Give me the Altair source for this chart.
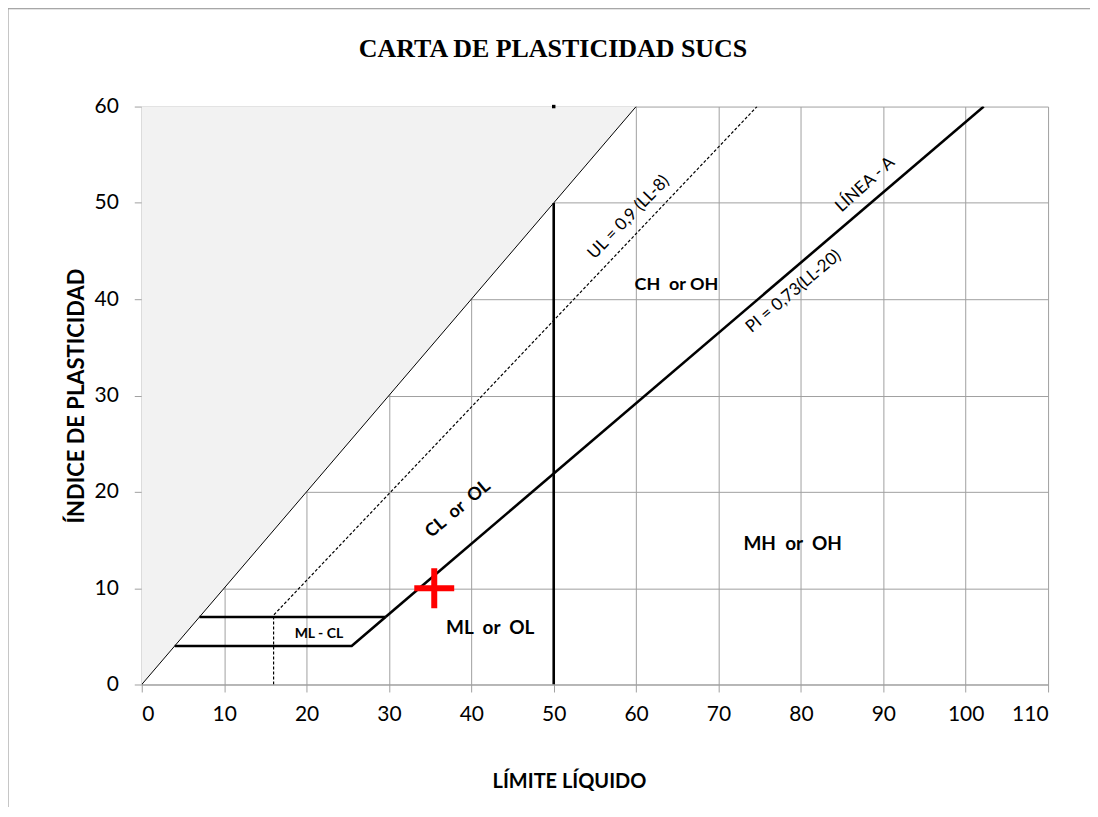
import altair as alt
import pandas as pd

# ---------------- data ----------------
chart_title = ["CARTA DE PLASTICIDAD SUCS"]
x_ticks = [0, 10, 20, 30, 40, 50, 60, 70, 80, 90, 100, 110]
y_ticks = [0, 10, 20, 30, 40, 50, 60]

# shaded zone (no soils)
tri_ll = [0, 60]
tri_pi_lo = [0, 60]
tri_pi_hi = [60, 60]

# PI = LL line
diag_ll = [0, 60]
diag_pi = [0, 60]

# U line (dashed)
ul_ll = [16, 16, 74.67]
ul_pi = [0, 7.2, 60]

# A line
aline_ll = [29.59, 102.19]
aline_pi = [7, 60]

# LL = 50 line
ll50_ll = [50, 50]
ll50_pi = [0, 50]

# ML-CL band
mlcl_top_ll = [7, 29.59]
mlcl_top_pi = [7, 7]
mlcl_bot_ll = [4, 25.48, 29.59]
mlcl_bot_pi = [4, 4, 7]

# sample point
sample_ll = [35.5]
sample_pi = [10]

# marker at top of LL=50 line
top_mark_ll = [50]
top_mark_pi = [60]

NB = "\u00a0"
# zone labels (bold, horizontal)
zone_text = ["ML" + NB + " or " + NB + "OL", "MH" + NB + " or " + NB + "OH"]
zone_ll = [42.3, 79.0]
zone_pi = [5.9, 14.6]

ch_text = ["CH" + NB + " or OH"]
ch_ll = [64.9]
ch_pi = [41.5]

small_text = ["ML - CL"]
small_ll = [21.5]
small_pi = [5.2]

# rotated labels
cl_text, cl_ll, cl_pi = "CL" + NB + " or " + NB + "OL", 38.4, 18.2
ul_text, ul_tll, ul_tpi = "UL = 0,9 (LL-8)", 59.1, 48.5
pi_text, pi_tll, pi_tpi = "PI = 0,73(LL-20)", 79.1, 40.8
la_text, la_tll, la_tpi = "LÍNEA - A", 87.8, 51.9

# ---------------- chart ----------------
GRID = "#a0a0a0"
FONT = "Lato"

xs = alt.Scale(domain=[0, 110], nice=False, zero=False)
ys = alt.Scale(domain=[0, 60], nice=False, zero=False)

x_axis = alt.Axis(values=x_ticks, title="LÍMITE LÍQUIDO", labelPadding=12,
                  titleX=428, titleY=103, titleBaseline="alphabetic",
                  titleAlign="center", titleFontSize=20)
y_axis = alt.Axis(values=y_ticks, title="ÍNDICE DE PLASTICIDAD", labelPadding=16,
                  titleX=-58, titleY=289.5, titleAngle=270, titleFontSize=22,
                  titleBaseline="alphabetic", titleAlign="center")


def X(field="ll"):
    return alt.X(f"{field}:Q", scale=xs, axis=x_axis)


def Y(field="pi"):
    return alt.Y(f"{field}:Q", scale=ys, axis=y_axis)


def line_layer(lls, pis, width, dash=None):
    df = pd.DataFrame({"ll": lls, "pi": pis, "o": list(range(len(lls)))})
    kw = dict(color="black", strokeWidth=width, clip=True)
    if dash:
        kw["strokeDash"] = dash
    return alt.Chart(df).mark_line(**kw).encode(x=X(), y=Y(), order="o:Q")


tri_df = pd.DataFrame({"ll": tri_ll, "pi": tri_pi_lo, "pi2": tri_pi_hi})
tri = alt.Chart(tri_df).mark_area(color="#f2f2f2", opacity=1).encode(
    x=X(), y=Y(), y2="pi2:Q"
)

diag = line_layer(diag_ll, diag_pi, 1)
uline = line_layer(ul_ll, ul_pi, 1.2, [3, 2])
aline = line_layer(aline_ll, aline_pi, 2.6)
ll50 = line_layer(ll50_ll, ll50_pi, 2.6)
mlcl_top = line_layer(mlcl_top_ll, mlcl_top_pi, 2.6)
mlcl_bot = line_layer(mlcl_bot_ll, mlcl_bot_pi, 2.6)

top_mark = alt.Chart(pd.DataFrame({"ll": top_mark_ll, "pi": top_mark_pi})).mark_point(
    shape="square", filled=True, color="black", size=12, opacity=1
).encode(x=X(), y=Y())

sample = alt.Chart(pd.DataFrame({"ll": sample_ll, "pi": sample_pi})).mark_point(
    shape="M-1,0H1M0,-1V1", filled=False, color="#ff0000", strokeWidth=6,
    size=1600, opacity=1, strokeCap="butt"
).encode(x=X(), y=Y())


def text_layer(texts, lls, pis, size, weight="bold", angle=0):
    df = pd.DataFrame({"ll": lls, "pi": pis, "t": texts})
    return alt.Chart(df).mark_text(
        font=FONT, fontWeight=weight, fontSize=size, color="black", align="center",
        baseline="middle", angle=angle
    ).encode(x=X(), y=Y(), text="t:N")


zones = text_layer(zone_text, zone_ll, zone_pi, 19)
ch_lab = text_layer(ch_text, ch_ll, ch_pi, 18)
small = text_layer(small_text, small_ll, small_pi, 14)
cl_lab = text_layer([cl_text], [cl_ll], [cl_pi], 18, "bold", 320)
ul_lab = text_layer([ul_text], [ul_tll], [ul_tpi], 17, "normal", 314)
pi_lab = text_layer([pi_text], [pi_tll], [pi_tpi], 17, "normal", 320)
la_lab = text_layer([la_text], [la_tll], [la_tpi], 17, "normal", 318)

title = alt.Chart(pd.DataFrame({"t": chart_title})).mark_text(
    font="Liberation Serif", fontWeight="bold", fontSize=26, color="black",
    align="center", baseline="alphabetic"
).encode(x=alt.value(412), y=alt.value(-50), text="t:N")

# outer chart frame (left and top edges visible)
frame = alt.Chart(pd.DataFrame({"k": [0]})).mark_rect(
    fill=None, stroke="#8c8c8c", strokeWidth=1, clip=False
).encode(
    x=alt.value(-134), x2=alt.value(3000), y=alt.value(-98), y2=alt.value(3000)
)

chart = alt.layer(
    tri, diag, uline, ll50, aline, mlcl_top, mlcl_bot, top_mark,
    zones, ch_lab, small, cl_lab, ul_lab, pi_lab, la_lab, sample, title, frame
).properties(
    width=908, height=579,
    autosize=alt.AutoSizeParams(type="none"),
    padding={"left": 134, "top": 98, "right": 42, "bottom": 122},
).configure_axis(
    gridColor=GRID, gridWidth=1, domainColor=GRID, tickColor=GRID, tickSize=7.5,
    labelFont=FONT, labelFontSize=21, labelColor="black",
    titleFont=FONT, titleFontWeight="bold", titleColor="black",
    gridOpacity=1,
).configure_view(stroke=None)

chart.save("out.html", embed_options={"renderer": "svg", "actions": False})
